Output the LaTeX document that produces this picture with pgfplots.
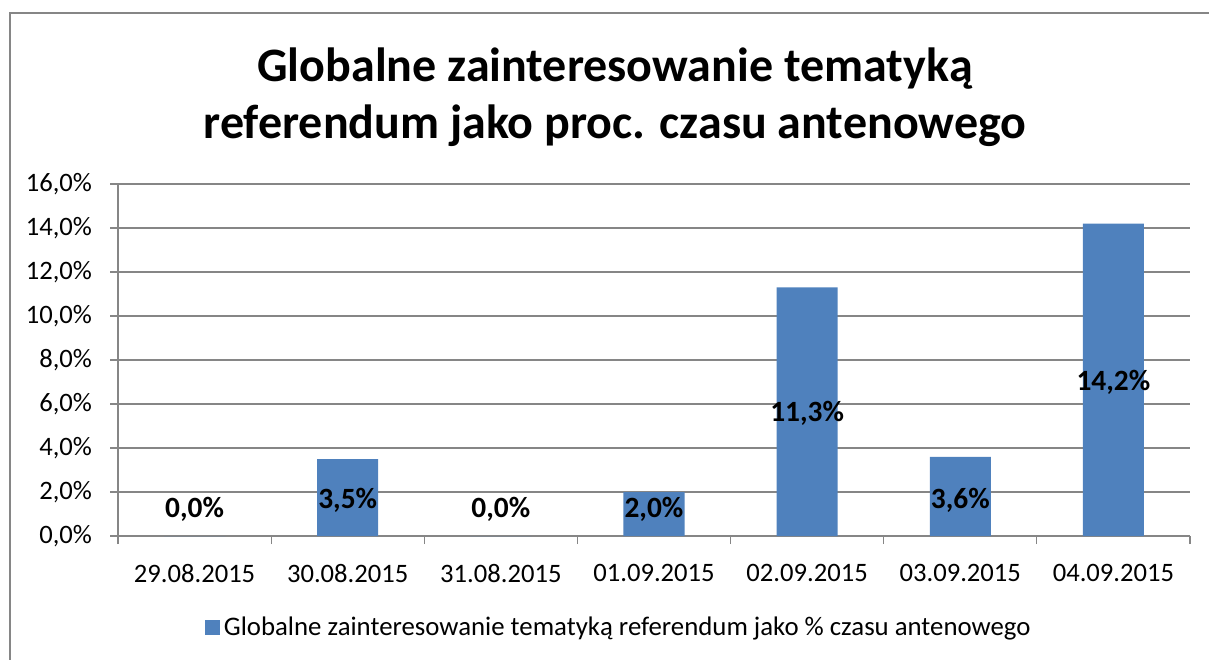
\documentclass[border=0pt]{standalone}
\usepackage{fontspec}
\setmainfont{Carlito}
\usepackage{pgfplots}
\usepackage{pgfplotstable}
\pgfplotsset{compat=1.18}
\definecolor{barblue}{HTML}{4F81BD}
\definecolor{gridgray}{HTML}{868686}

% x = category index, v = value in %, ly = height of the data label
\pgfplotstableread{
x v ly
0 0.0 1.23
1 3.5 1.64
2 0.0 1.23
3 2.0 1.23
4 11.3 5.59
5 3.6 1.64
6 14.2 7.0
}\data

\begin{document}
\begin{tikzpicture}
\path[use as bounding box] (0pt,0pt) rectangle (604.5pt,-329.5pt);
\draw[gridgray, line width=0.6pt] (5pt,-330pt) -- (5pt,-6.5pt) -- (605pt,-6.5pt);
\node[font=\bfseries\fontsize{24}{28.5}\selectfont, align=center] at (307.5pt,-48.75pt)
  {Globalne zainteresowanie tematyką\\referendum jako proc. czasu antenowego};
\begin{axis}[
  at={(59pt,-268pt)}, anchor=south west,
  scale only axis, width=536pt, height=176pt,
  xmin=-0.5, xmax=6.5, ymin=0, ymax=16,
  axis x line*=bottom, axis y line*=left,
  axis line style={gridgray, line width=0.6pt},
  ymajorgrids, grid style={gridgray, line width=0.6pt},
  ytick={0,2,...,16},
  yticklabel={\pgfmathprintnumber[fixed,fixed zerofill,precision=1,use comma]{\tick}\%},
  /pgf/number format/assume math mode=true,
  xtick={0,...,6},
  xticklabels={29.08.2015,30.08.2015,31.08.2015,01.09.2015,02.09.2015,03.09.2015,04.09.2015},
  minor xtick={-0.5,0.5,...,6.5},
  major x tick style={draw=none},
  minor x tick style={gridgray, line width=0.6pt},
  y tick style={gridgray, line width=0.6pt},
  tick align=outside, major tick length=4pt, minor tick length=4pt,
  ticklabel style={font=\fontsize{13.3}{15}\selectfont},
  yticklabel style={xshift=-5.5pt},
  xticklabel style={yshift=-6.5pt},
  legend style={at={(0.468,-0.261)}, anchor=center, draw=none,
    font=\fontsize{13.4}{15}\selectfont, inner sep=0pt},
  legend image code/.code={\fill[barblue] (0pt,-3.75pt) rectangle (7.5pt,3.75pt);},
]
\addplot[ybar, bar width=30.5pt, fill=barblue, draw=none] table[x=x, y=v] {\data};
\addlegendentry{Globalne zainteresowanie tematyką referendum jako \% czasu antenowego}
\addplot[draw=none, mark=none, forget plot, point meta=\thisrow{v},
  nodes near coords={\pgfmathprintnumber[fixed,fixed zerofill,precision=1,use comma]{\pgfplotspointmeta}\%},
  nodes near coords align={center},
  every node near coord/.style={font=\bfseries\fontsize{14.7}{16}\selectfont, text=black, inner sep=0pt}]
  table[x=x, y=ly] {\data};
\end{axis}
\end{tikzpicture}
\end{document}
